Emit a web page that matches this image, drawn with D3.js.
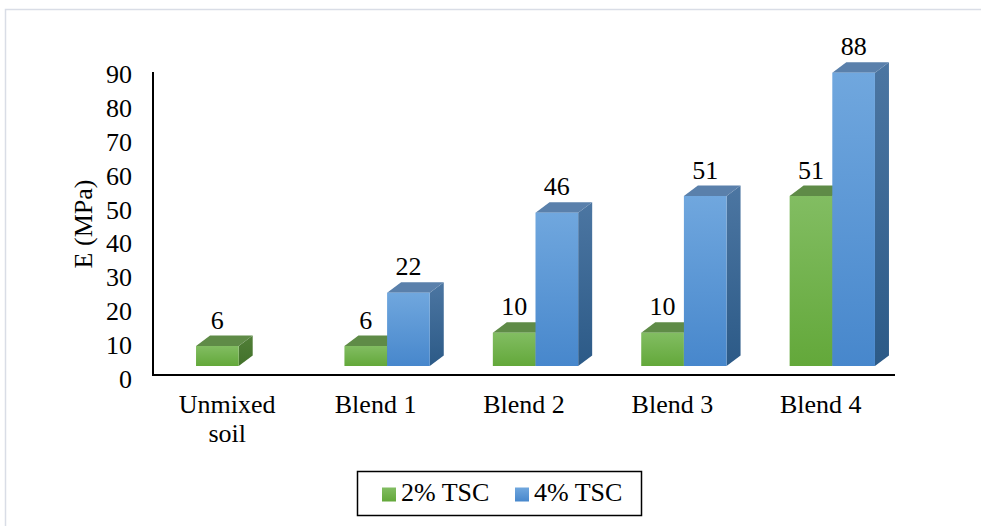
<!DOCTYPE html>
<html>
<head>
<meta charset="utf-8">
<script src="https://cdn.jsdelivr.net/npm/d3@7/dist/d3.min.js"></script>
<style>
  html, body { margin: 0; padding: 0; background: #fff; }
  svg { display: block; }
</style>
</head>
<body>
<svg id="chart" width="981" height="526"></svg>
<script>
// Elastic modulus by mix, two cement contents
const categories = [["Unmixed", "soil"], ["Blend 1"], ["Blend 2"], ["Blend 3"], ["Blend 4"]];
const seriesNames = ["2% TSC", "4% TSC"];
const tsc2 = [6, 6, 10, 10, 51];
const tsc4 = [null, 22, 46, 51, 88];
const yTicks = [0, 10, 20, 30, 40, 50, 60, 70, 80, 90];
const yTitle = "E (MPa)";

const svg = d3.select("#chart");
const catKeys = categories.map(c => c.join(" "));

function label(sel) {
  return sel.attr("font-family", "Liberation Serif").attr("font-size", 26).attr("fill", "#000");
}

// chart area frame
svg.append("rect")
  .attr("x", 5.5).attr("y", 9.5).attr("width", 1000).attr("height", 600)
  .attr("fill", "none").attr("stroke", "#d9dde6").attr("stroke-width", 1.5);

// scales
const y = d3.scaleLinear().domain([0, 90]).range([366, 66]);
const yAxisScale = y.copy().range([379, 74.5]);
const xCat = d3.scaleBand().domain(catKeys).range([153, 895]);
const x0 = d3.scaleBand().domain(catKeys).range([164.5, 906.5])
  .paddingInner(0.425).paddingOuter(0.2125);
const x1 = d3.scaleBand().domain(seriesNames).range([0, x0.bandwidth()]);
const depth = { dx: 14, dy: -10.5 };

// gradients
const defs = svg.append("defs");
function grad(id, c0, c1) {
  const g = defs.append("linearGradient").attr("id", id)
    .attr("x1", 0).attr("y1", 0).attr("x2", 0).attr("y2", 1);
  g.append("stop").attr("offset", "0%").attr("stop-color", c0);
  g.append("stop").attr("offset", "100%").attr("stop-color", c1);
}
const styles = {
  "2% TSC": { front: "gFront", top: "#5f8b47", side: "gSide" },
  "4% TSC": { front: "bFront", top: "#5a80ab", side: "bSide" }
};
grad("gFront", "#82bd62", "#63a83a");
grad("gSide", "#517f38", "#42712a");
grad("bFront", "#70a7de", "#4787cc");
grad("bSide", "#4c76a2", "#2c5a87");

// axes
const yAxis = d3.axisLeft(yAxisScale).tickValues(yTicks).tickSize(0).tickPadding(21);
const yg = svg.append("g").attr("transform", "translate(153,0)").call(yAxis);
yg.attr("font-family", "Liberation Serif").attr("font-size", 26);
yg.select(".domain").remove();
label(yg.selectAll("text"));

svg.append("line").attr("x1", 153).attr("x2", 153).attr("y1", 72).attr("y2", 376)
  .attr("stroke", "#000").attr("stroke-width", 2);
svg.append("line").attr("x1", 152).attr("x2", 895).attr("y1", 375).attr("y2", 375)
  .attr("stroke", "#000").attr("stroke-width", 2);

// y title
label(svg.append("text"))
  .attr("transform", "translate(92,224) rotate(-90)")
  .attr("text-anchor", "middle")
  .text(yTitle);

// category labels
categories.forEach((lines, i) => {
  const cx = xCat(catKeys[i]) + xCat.bandwidth() / 2;
  const t = label(svg.append("text")).attr("x", cx).attr("y", 413).attr("text-anchor", "middle");
  lines.forEach((ln, j) => {
    t.append("tspan").attr("x", cx).attr("dy", j === 0 ? 0 : 29).text(ln);
  });
});

// 3D bars
const rows = [];
catKeys.forEach((k, i) => {
  rows.push({ cat: k, series: "2% TSC", value: tsc2[i] });
  rows.push({ cat: k, series: "4% TSC", value: tsc4[i] });
});
const barsG = svg.append("g");
rows.filter(d => d.value != null).forEach(d => {
  const st = styles[d.series];
  const xl = x0(d.cat) + x1(d.series);
  const xr = xl + x1.bandwidth();
  const yt = y(d.value), yb = y(0);
  const g = barsG.append("g");
  // side face
  g.append("path")
    .attr("d", `M${xr},${yb}L${xr + depth.dx},${yb + depth.dy}L${xr + depth.dx},${yt + depth.dy}L${xr},${yt}Z`)
    .attr("fill", `url(#${st.side})`);
  // top face
  g.append("path")
    .attr("d", `M${xl},${yt}L${xr},${yt}L${xr + depth.dx},${yt + depth.dy}L${xl + depth.dx},${yt + depth.dy}Z`)
    .attr("fill", st.top);
  // front face
  g.append("rect")
    .attr("x", xl).attr("y", yt).attr("width", xr - xl).attr("height", yb - yt)
    .attr("fill", `url(#${st.front})`);
  // value label
  label(svg.append("text"))
    .attr("x", (xl + xr) / 2).attr("y", yt + depth.dy - 7)
    .attr("text-anchor", "middle")
    .text(d.value);
});

// legend
const lg = svg.append("g");
lg.append("rect").attr("x", 357.5).attr("y", 471.5).attr("width", 284).attr("height", 44)
  .attr("fill", "#fff").attr("stroke", "#000").attr("stroke-width", 1.5);
const legendX = [382, 515];
seriesNames.forEach((s, i) => {
  lg.append("rect").attr("x", legendX[i]).attr("y", 487.5).attr("width", 14).attr("height", 14)
    .attr("fill", `url(#${styles[s].front})`);
  label(lg.append("text")).attr("x", legendX[i] + 19).attr("y", 501).text(s);
});
</script>
</body>
</html>
